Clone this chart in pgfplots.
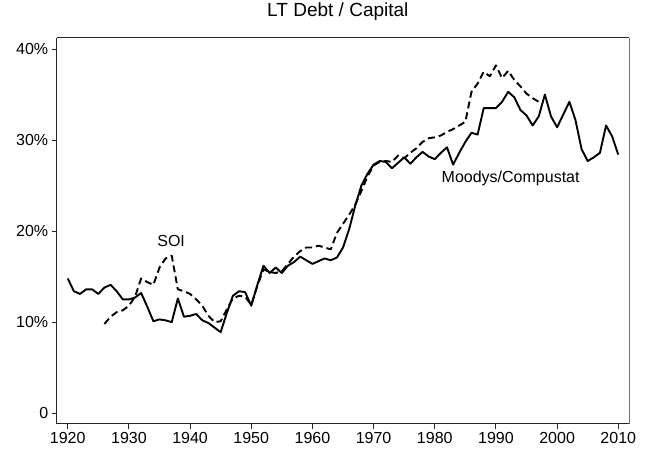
\documentclass[border=0pt]{standalone}
\usepackage{fontspec}
\setmainfont{Liberation Sans}
\usepackage{pgfplots}
\pgfplotsset{compat=1.18}
\usepackage{pgfplotstable}
\usetikzlibrary{calc}

% Moodys/Compustat series
\pgfplotstableread{
year val
1920 14.8
1921 13.4
1922 13.1
1923 13.6
1924 13.6
1925 13.1
1926 13.8
1927 14.1
1928 13.4
1929 12.5
1930 12.5
1931 12.7
1932 13.2
1933 11.7
1934 10.1
1935 10.3
1936 10.2
1937 10.0
1938 12.6
1939 10.6
1940 10.7
1941 10.9
1942 10.2
1943 9.9
1944 9.4
1945 8.9
1946 11.0
1947 12.9
1948 13.4
1949 13.3
1950 11.8
1951 14.1
1952 16.2
1953 15.4
1954 16.0
1955 15.4
1956 16.2
1957 16.6
1958 17.2
1959 16.8
1960 16.4
1961 16.7
1962 17.0
1963 16.8
1964 17.1
1965 18.2
1966 20.2
1967 22.8
1968 25.0
1969 26.3
1970 27.3
1971 27.7
1972 27.6
1973 26.9
1974 27.5
1975 28.1
1976 27.4
1977 28.1
1978 28.7
1979 28.2
1980 27.9
1981 28.6
1982 29.2
1983 27.3
1984 28.6
1985 29.8
1986 30.8
1987 30.6
1988 33.5
1989 33.5
1990 33.5
1991 34.2
1992 35.3
1993 34.7
1994 33.3
1995 32.7
1996 31.6
1997 32.6
1998 35.0
1999 32.6
2000 31.4
2001 32.8
2002 34.2
2003 32.2
2004 29.0
2005 27.7
2006 28.1
2007 28.6
2008 31.6
2009 30.4
2010 28.4
}\moodys

% SOI series
\pgfplotstableread{
year val
1926 9.8
1927 10.6
1928 11.1
1929 11.3
1930 11.8
1931 12.8
1932 14.8
1933 14.4
1934 14.1
1935 16.0
1936 17.0
1937 17.3
1938 13.6
1939 13.4
1940 13.1
1941 12.5
1942 11.8
1943 10.7
1944 10.0
1945 10.1
1946 11.4
1947 12.6
1948 12.9
1949 12.8
1950 11.9
1951 14.0
1952 15.8
1953 15.5
1954 15.4
1955 15.6
1956 16.4
1957 17.2
1958 17.8
1959 18.2
1960 18.2
1961 18.4
1962 18.2
1963 18.0
1964 19.8
1965 20.8
1966 21.8
1967 22.9
1968 24.4
1969 26.0
1970 27.2
1971 27.6
1972 27.7
1973 27.6
1974 28.3
1975 28.0
1976 28.6
1977 29.1
1978 29.8
1979 30.2
1980 30.3
1981 30.5
1982 30.9
1983 31.2
1984 31.6
1985 32.0
1986 35.3
1987 36.2
1988 37.5
1989 37.0
1990 38.2
1991 36.8
1992 37.6
1993 36.6
1994 35.9
1995 35.1
1996 34.6
1997 34.2
}\soi

\begin{document}
\begin{tikzpicture}
\begin{axis}[
    scale only axis,
    width=572bp,
    height=385.6bp,
    xmin=1918.2, xmax=2011.75,
    ymin=-1.13, ymax=41.24,
    xtick={1920,1930,...,2010},
    ytick={0,10,20,30,40},
    yticklabels={0,10\%,20\%,30\%,40\%},
    axis lines*=left,
    axis line style={black!85, line width=0.9bp},
    tick align=outside,
    major tick length=5bp,
    tick style={black!85, line width=0.9bp},
    /pgf/number format/1000 sep={},
    /pgf/number format/assume math mode=true,
    ticklabel style={font=\fontsize{16bp}{19bp}\selectfont},
    title={LT Debt / Capital},
    title style={font=\fontsize{19bp}{23bp}\selectfont, at={(0.5,1)}, anchor=base, yshift=15.7bp, xshift=-5bp},
    clip=false,
]
\addplot[black, line width=1.9bp, line join=round] table[x=year, y=val] {\moodys};
\addplot[black, line width=1.9bp, line join=round, dash pattern=on 7bp off 4bp] table[x=year, y=val] {\soi};
\draw[black!85, line width=0.9bp] (rel axis cs:0,1) -- (rel axis cs:1,1);
\draw[black!55, line width=0.9bp] (rel axis cs:1,0) -- (rel axis cs:1,1);
\node[font=\fontsize{16bp}{19bp}\selectfont] at (axis cs:1936.9,18.9) {SOI};
\node[font=\fontsize{16bp}{19bp}\selectfont] at (axis cs:1992.4,25.8) {Moodys/Compustat};
\end{axis}
\pgfresetboundingbox
\path ($(current axis.south west)+(-56.7bp,-26.7bp)$) rectangle ($(current axis.north east)+(21bp,37.7bp)$);
\end{tikzpicture}
\end{document}
